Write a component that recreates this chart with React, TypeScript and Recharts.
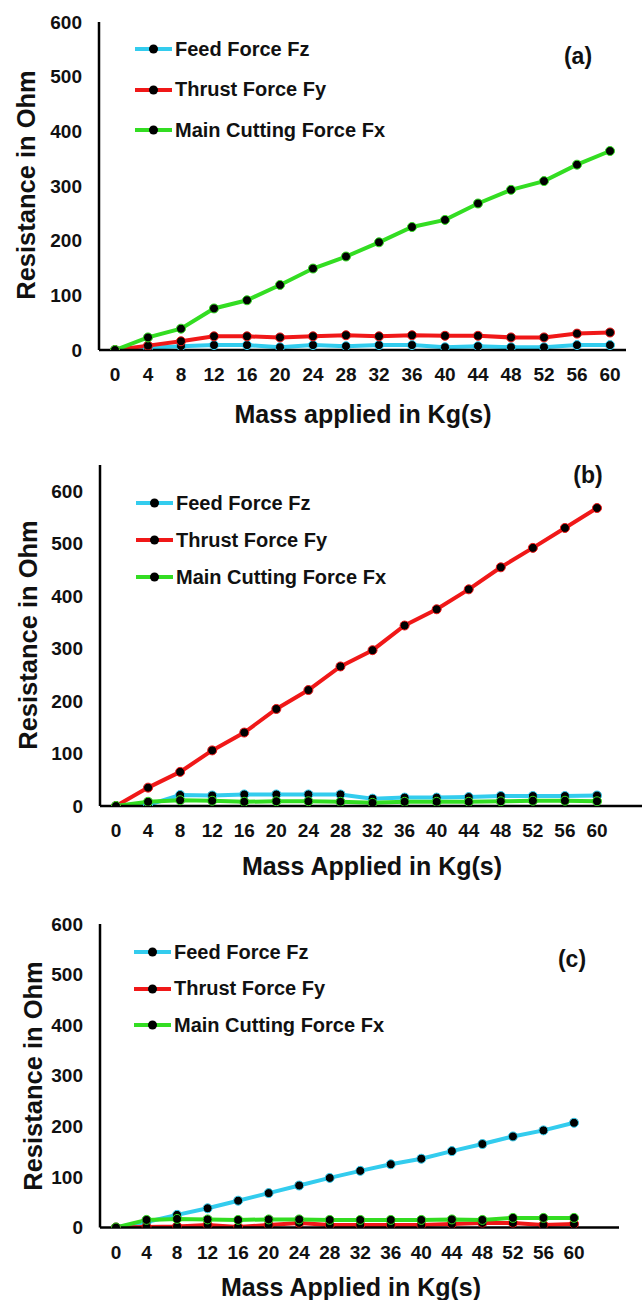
import { LineChart, Line, XAxis, YAxis } from 'recharts';

const mass = [0, 4, 8, 12, 16, 20, 24, 28, 32, 36, 40, 44, 48, 52, 56, 60];
const yTicks = [0, 100, 200, 300, 400, 500, 600];

// (a)
const feedA = [0, 4, 7, 9, 9, 5, 9, 7, 9, 9, 5, 7, 5, 5, 9, 9];
const thrustA = [0, 8, 16, 25, 25, 23, 25, 27, 25, 27, 26, 26, 23, 23, 30, 32];
const mainA = [0, 23, 39, 76, 91, 119, 149, 171, 197, 225, 238, 268, 293, 309, 339, 364];

// (b)
const feedB = [0, 2, 21, 20, 22, 22, 22, 22, 14, 16, 16, 17, 19, 19, 19, 20];
const thrustB = [0, 35, 65, 106, 140, 185, 221, 266, 297, 344, 375, 413, 455, 492, 530, 568];
const mainB = [0, 8, 11, 10, 8, 9, 9, 8, 6, 8, 8, 8, 9, 10, 10, 9];

// (c)
const feedC = [0, 11, 25, 38, 53, 68, 83, 98, 112, 125, 136, 151, 165, 180, 192, 207];
const thrustC = [0, 1, 2, 5, 1, 5, 9, 5, 5, 5, 5, 7, 9, 9, 5, 7];
const mainC = [0, 15, 17, 16, 15, 16, 16, 15, 15, 15, 15, 16, 15, 19, 19, 19];

const seriesNames = ['Feed Force Fz', 'Thrust Force Fy', 'Main Cutting Force Fx'];
const colors = ['#33CCEE', '#F01818', '#33DD22'];

const FONT = '"Liberation Sans", Arial, Helvetica, sans-serif';
const X_AXIS_H = 30;
const Y_AXIS_W = 60;

const build = (feed: number[], thrust: number[], main: number[]) =>
  mass.map((m, i) => ({ mass: m, feed: feed[i], thrust: thrust[i], main: main[i] }));

// plot box given as left/right/top/bottom edges inside each panel
const panels = [
  {
    tag: '(a)',
    top: 0,
    height: 430,
    data: build(feedA, thrustA, mainA),
    plot: { left: 99, right: 626, top: 22, bottom: 350 },
    domain: [0, 600],
    padding: { left: 16, right: 16 },
    legend: { left: 135, top: 29, gap: 40.5 },
    tagPos: [578, 56],
    xTitle: 'Mass applied in Kg(s)',
    xTitlePos: [363, 414],
    yTitlePos: [26, 185],
  },
  {
    tag: '(b)',
    top: 430,
    height: 440,
    data: build(feedB, thrustB, mainB),
    plot: { left: 100, right: 642, top: 35, bottom: 376 },
    domain: [0, 650],
    padding: { left: 16, right: 45 },
    legend: { left: 136, top: 54.5, gap: 37 },
    tagPos: [588, 45],
    xTitle: 'Mass Applied in Kg(s)',
    xTitlePos: [372, 436],
    yTitlePos: [28, 205],
  },
  {
    tag: '(c)',
    top: 870,
    height: 430,
    data: build(feedC, thrustC, mainC),
    plot: { left: 100, right: 619, top: 54, bottom: 357.5 },
    domain: [0, 600],
    padding: { left: 16, right: 45 },
    legend: { left: 134, top: 64, gap: 36.5 },
    tagPos: [572, 89],
    xTitle: 'Mass Applied in Kg(s)',
    xTitlePos: [351, 417],
    yTitlePos: [33, 206],
  },
];

function LegendBox({ left, top, gap }: { left: number; top: number; gap: number }) {
  return (
    <div style={{ position: 'absolute', left, top }}>
      {seriesNames.map((name, i) => (
        <div key={name} style={{ height: gap, display: 'flex', alignItems: 'center' }}>
          <svg width={37} height={12}>
            <line x1={0} x2={37} y1={6} y2={6} stroke={colors[i]} strokeWidth={4} />
            <circle cx={18.5} cy={6} r={4.5} fill="#000" />
          </svg>
          <span style={{ marginLeft: 3, fontSize: 20, fontWeight: 700, color: '#111', whiteSpace: 'nowrap' }}>
            {name}
          </span>
        </div>
      ))}
    </div>
  );
}

function Panel({ p }: { p: (typeof panels)[number] }) {
  const keys = ['feed', 'thrust', 'main'];
  const margin = {
    top: p.plot.top,
    left: p.plot.left - Y_AXIS_W,
    right: 642 - p.plot.right,
    bottom: p.height - p.plot.bottom - X_AXIS_H,
  };
  return (
    <div style={{ position: 'absolute', left: 0, top: p.top, width: 642, height: p.height }}>
      <LineChart width={642} height={p.height} data={p.data} margin={margin}>
        <XAxis
          dataKey="mass"
          height={X_AXIS_H}
          padding={p.padding}
          tickLine={false}
          tickSize={0}
          tickMargin={18}
          axisLine={{ stroke: '#000', strokeWidth: 2.5 }}
          tick={{ fontSize: 19, fontWeight: 700, fill: '#111' }}
          interval={0}
        />
        <YAxis
          width={Y_AXIS_W}
          domain={p.domain}
          ticks={yTicks}
          allowDataOverflow
          tickLine={false}
          tickSize={0}
          tickMargin={17}
          axisLine={{ stroke: '#000', strokeWidth: 2.5 }}
          tick={{ fontSize: 19, fontWeight: 700, fill: '#111' }}
        />
        {keys.map((k, i) => (
          <Line
            key={k}
            dataKey={k}
            name={seriesNames[i]}
            type="linear"
            stroke={colors[i]}
            strokeWidth={4}
            dot={{ r: 4.5, fill: '#000', stroke: colors[i], strokeWidth: 1 }}
            isAnimationActive={false}
          />
        ))}
      </LineChart>
      <LegendBox left={p.legend.left} top={p.legend.top} gap={p.legend.gap} />
      <div
        style={{
          position: 'absolute',
          left: p.tagPos[0],
          top: p.tagPos[1],
          transform: 'translate(-50%, -50%)',
          fontSize: 23,
          fontWeight: 700,
          color: '#111',
        }}
      >
        {p.tag}
      </div>
      <div
        style={{
          position: 'absolute',
          left: p.xTitlePos[0],
          top: p.xTitlePos[1],
          transform: 'translate(-50%, -50%)',
          fontSize: 25,
          fontWeight: 700,
          color: '#111',
          whiteSpace: 'nowrap',
        }}
      >
        {p.xTitle}
      </div>
      <div
        style={{
          position: 'absolute',
          left: p.yTitlePos[0],
          top: p.yTitlePos[1],
          transform: 'translate(-50%, -50%) rotate(-90deg)',
          fontSize: 25.5,
          fontWeight: 700,
          color: '#111',
          whiteSpace: 'nowrap',
        }}
      >
        Resistance in Ohm
      </div>
    </div>
  );
}

export default function App() {
  return (
    <div
      style={{
        position: 'absolute',
        left: 0,
        top: 0,
        width: 642,
        height: 1300,
        background: '#fff',
        fontFamily: FONT,
      }}
    >
      {panels.map((p) => (
        <Panel key={p.tag} p={p} />
      ))}
    </div>
  );
}
